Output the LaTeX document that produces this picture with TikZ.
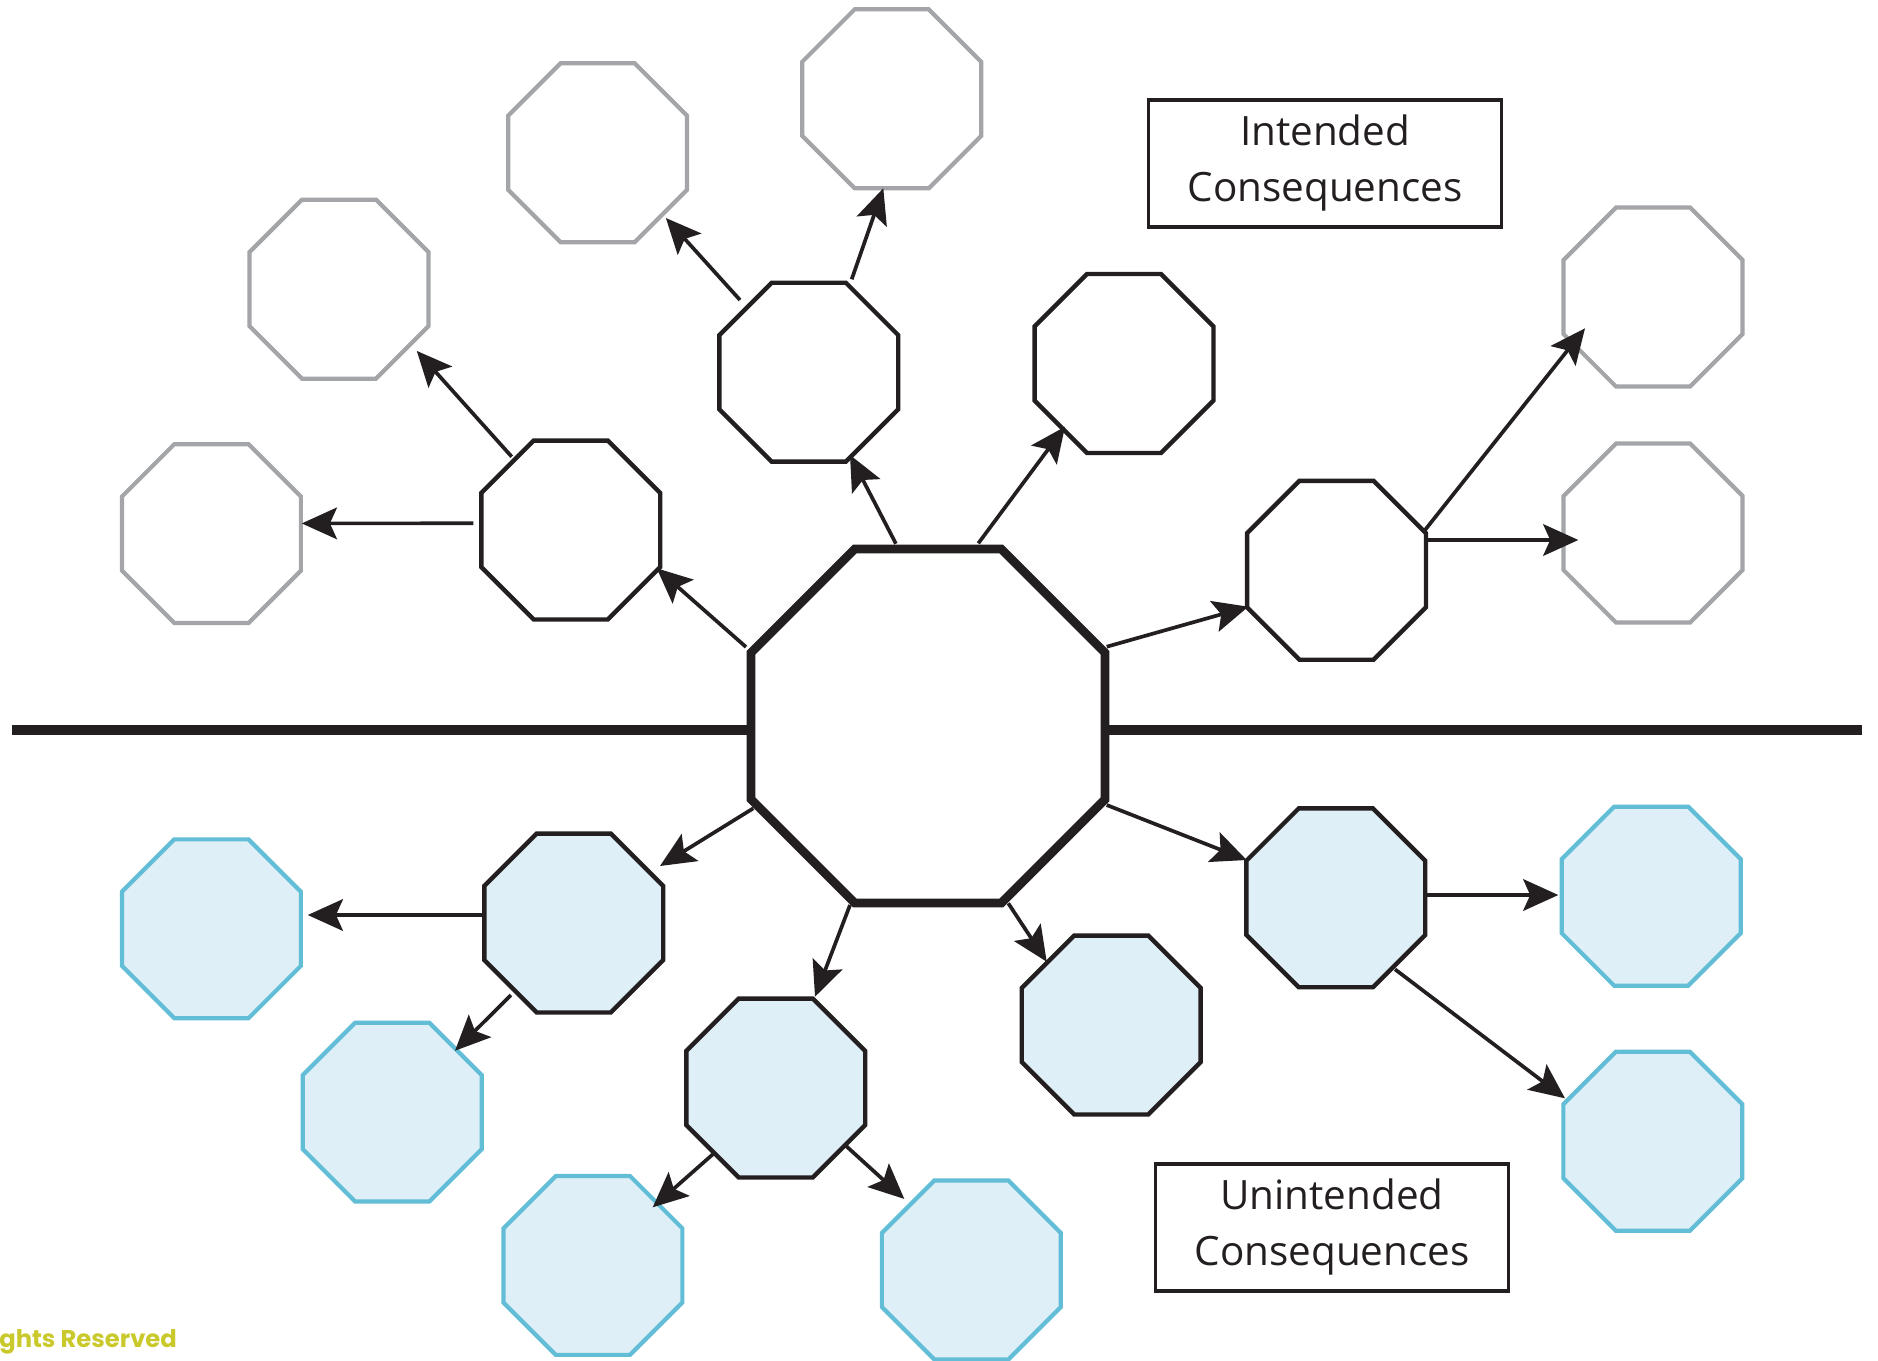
\documentclass[tikz,border=0pt]{standalone}
\usepackage{fontspec}
\setmainfont{Open Sans}
\newfontfamily\rfont{Poppins}
\usetikzlibrary{arrows.meta,shapes.geometric}
\definecolor{ink}{HTML}{231F20}
\definecolor{greyc}{HTML}{A3A5A8}
\definecolor{lblue}{HTML}{DEEFF7}
\definecolor{cyanc}{HTML}{62BDD6}
\definecolor{rights}{HTML}{C9C92C}
\tikzset{
  oct/.style={regular polygon, regular polygon sides=8, minimum size=3.874cm,
    inner sep=0pt, outer sep=0pt, line width=2.5pt, draw=ink, fill=white},
  intoct/.style={oct},
  greyoct/.style={oct, draw=greyc, line width=2.4pt},
  unoct/.style={oct, fill=lblue},
  cyanoct/.style={oct, draw=cyanc, fill=lblue, line width=2.4pt},
  bigoct/.style={oct, minimum size=7.664cm, line width=5pt},
  arr/.style={draw=ink, line width=2.1pt, -{Stealth[length=20pt,width=18pt,inset=4pt]}},
  divider/.style={draw=ink, line width=6pt},
  textbox/.style={draw=ink, line width=2.1pt, minimum width=7.06cm, minimum height=2.54cm,
    align=center, text=ink, inner sep=0pt, font=\fontsize{23}{32}\selectfont}
}
\begin{document}
\begin{tikzpicture}[x=0.02cm,y=-0.02cm]
\useasboundingbox (0,0) rectangle (1878,1360);

% dividing line
\coordinate (lineL) at (12,730);
\coordinate (lineR) at (1862,730);

% central octagon
\node[bigoct] (big) at (928,726) {};
\draw[divider] (lineL) -- ([shift={(0,4)}]big.west);
\draw[divider] ([shift={(0,4)}]big.east) -- (lineR);

% intended (first ring)
\node[intoct] (A1) at (570.8,530) {};
\node[intoct] (A2) at (808.8,372.2) {};
\node[intoct] (A3) at (1124,363.5) {};
\node[intoct] (A4) at (1336.5,570.3) {};
% intended (second ring, grey)
\node[greyoct] (G1) at (211.4,533.6) {};
\node[greyoct] (G2) at (339,289.2) {};
\node[greyoct] (G3) at (597.6,152.7) {};
\node[greyoct] (G4) at (891.7,98.8) {};
\node[greyoct] (G5) at (1653,297) {};
\node[greyoct] (G6) at (1653,533) {};

% unintended (first ring)
\node[unoct] (B1) at (573.8,923) {};
\node[unoct] (B2) at (775.8,1088) {};
\node[unoct] (B3) at (1111.2,1025) {};
\node[unoct] (B4) at (1335.8,897.8) {};
% unintended (second ring, cyan)
\node[cyanoct] (C1) at (211.4,928.8) {};
\node[cyanoct] (C2) at (392.2,1112.1) {};
\node[cyanoct] (C3) at (592.9,1265.4) {};
\node[cyanoct] (C4) at (971.3,1270) {};
\node[cyanoct] (C5) at (1651.2,896.2) {};
\node[cyanoct] (C6) at (1652.8,1141.2) {};

% labels
\node[textbox] (lblI) at (1325,163.3) {Intended\\Consequences};
\node[textbox] (lblU) at (1332,1227.2) {Unintended\\Consequences};
\node[anchor=base west, inner sep=0pt, text=rights, font=\rfont\bfseries\fontsize{13.8}{16}\selectfont] (rights) at (-1,1347.3) {ghts Reserved};

% arrows: centre to first ring (intended)
\draw[arr] ([shift={(-182,-79)}]big.center) -- ([shift={(85.9,38.3)}]A1.center);
\draw[arr] ([shift={(-32.1,-182.3)}]big.center) -- ([shift={(41.2,82.8)}]A2.center);
\draw[arr] ([shift={(50.3,-182.7)}]big.center) -- ([shift={(-59,63.2)}]A3.center);
\draw[arr] ([shift={(178.7,-79.3)}]big.center) -- ([shift={(-88.2,36.4)}]A4.center);
% first ring to second ring (intended)
\draw[arr] ([shift={(-97.5,-6.7)}]A1.center) -- ([shift={(90.4,-10.2)}]G1.center);
\draw[arr] ([shift={(-59.1,-73.3)}]A1.center) -- ([shift={(77.8,61.7)}]G2.center);
\draw[arr] ([shift={(-68.8,-72.2)}]A2.center) -- ([shift={(68.3,65.3)}]G3.center);
\draw[arr] ([shift={(42.9,-92.9)}]A2.center) -- ([shift={(-8.4,89.5)}]G4.center);
\draw[arr] ([shift={(88.5,-40.3)}]A4.center) -- ([shift={(-68,31.3)}]G5.center);
\draw[arr] ([shift={(88.5,-30.3)}]A4.center) -- ([shift={(-74.7,7)}]G6.center);

% arrows: centre to first ring (unintended)
\draw[arr] ([shift={(-174.7,82.3)}]big.center) -- ([shift={(86.2,-57)}]B1.center);
\draw[arr] ([shift={(-78,179)}]big.center) -- ([shift={(39.2,-91.3)}]B2.center);
\draw[arr] ([shift={(80.3,177.3)}]big.center) -- ([shift={(-64.5,-63.3)}]B3.center);
\draw[arr] ([shift={(178.7,79)}]big.center) -- ([shift={(-89.1,-37.8)}]B4.center);
% first ring to second ring (unintended)
\draw[arr] ([shift={(-90.5,-8)}]B1.center) -- ([shift={(96.4,-13.8)}]C1.center);
\draw[arr] ([shift={(-62.8,72)}]B1.center) -- ([shift={(62.8,-61.4)}]C2.center);
\draw[arr] ([shift={(-62,65.4)}]B2.center) -- ([shift={(59.8,-58.1)}]C3.center);
\draw[arr] ([shift={(69.2,57)}]B2.center) -- ([shift={(-67,-71.1)}]C4.center);
\draw[arr] ([shift={(90.2,-2.8)}]B4.center) -- ([shift={(-92.9,-1.2)}]C5.center);
\draw[arr] ([shift={(59.2,71.5)}]B4.center) -- ([shift={(-87.8,-42.9)}]C6.center);
\end{tikzpicture}
\end{document}
